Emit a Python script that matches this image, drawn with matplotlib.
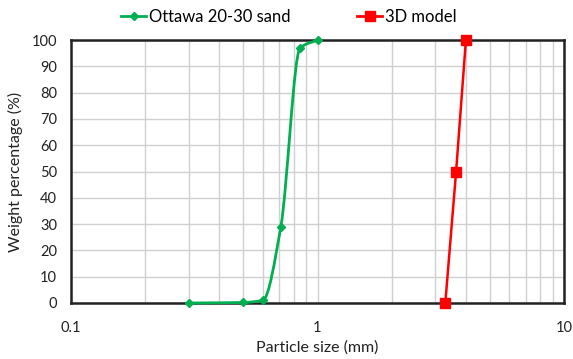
import numpy as np
import matplotlib.pyplot as plt
from matplotlib.path import Path
from matplotlib.patches import PathPatch
from matplotlib.lines import Line2D

plt.rcParams['font.family'] = ['Lato', 'DejaVu Sans']

# sieve data
sand_size = [0.3, 0.5, 0.6, 0.71, 0.85, 1.0]
sand_pct = [0.0, 0.2, 1.0, 29.0, 97.0, 100.0]
model_size = [3.3, 3.65, 4.0]
model_pct = [0.0, 50.0, 100.0]

green = '#00B050'
red = '#FF0000'

fig = plt.figure(figsize=(5.73, 3.59), dpi=100)
ax = fig.add_axes([71 / 573, 1 - 303 / 359, 493 / 573, 263 / 359])
ax.set_xscale('log')
ax.set_xlim(0.1, 10)
ax.set_ylim(0, 100)

# smoothed line, monotone cubic tangents in log-x space (no overshoot)
lx = np.log10(sand_size)
yy = np.array(sand_pct)
h = np.diff(lx)
d = np.diff(yy) / h
m = np.zeros(len(lx))
m[0], m[-1] = d[0], d[-1]
for i in range(1, len(lx) - 1):
    if d[i - 1] * d[i] > 0:
        w1 = 2 * h[i] + h[i - 1]
        w2 = h[i] + 2 * h[i - 1]
        m[i] = (w1 + w2) / (w1 / d[i - 1] + w2 / d[i])
verts = [(lx[0], yy[0])]
codes = [Path.MOVETO]
for i in range(len(lx) - 1):
    verts += [(lx[i] + h[i] / 3, yy[i] + m[i] * h[i] / 3),
              (lx[i + 1] - h[i] / 3, yy[i + 1] - m[i + 1] * h[i] / 3),
              (lx[i + 1], yy[i + 1])]
    codes += [Path.CURVE4] * 3
xy_disp = ax.transData.transform([(10 ** vx, vy) for vx, vy in verts])
path = Path(ax.transAxes.inverted().transform(xy_disp), codes)
ax.add_patch(PathPatch(path, facecolor='none', edgecolor=green, lw=2,
                       transform=ax.transAxes, zorder=3, clip_on=False))
ax.plot(sand_size, sand_pct, ls='none', marker='D', ms=4.5, color=green,
        zorder=4, clip_on=False)

ax.plot(model_size, model_pct, color=red, lw=1.8, marker='s', ms=6.5,
        zorder=4, clip_on=False)

ax.set_yticks(range(0, 101, 10))
ax.set_xticks([0.1, 1, 10])
ax.set_xticklabels(['0.1', '1', '10'])
ax.tick_params(axis='both', which='both', length=0, labelsize=10.5, colors='#222222')
ax.tick_params(axis='x', pad=13)
ax.tick_params(axis='y', pad=10)
ax.grid(True, which='both', axis='x', color='#d0d0d0', lw=1)
ax.grid(True, which='major', axis='y', color='#d0d0d0', lw=1)
ax.set_axisbelow(True)
for s in ax.spines.values():
    s.set_linewidth(1.8)
    s.set_color('#222222')

ax.set_xlabel('Particle size (mm)', fontsize=11.5, color='#222222', labelpad=4)
ax.set_ylabel('Weight percentage (%)', fontsize=11.5, color='#222222', labelpad=6)

handles = [Line2D([], [], color=green, lw=2, marker='D', ms=4.5),
           Line2D([], [], color=red, lw=2, marker='s', ms=6.5)]
fig.legend(handles, ['Ottawa 20-30 sand', '3D model'], loc='center',
           bbox_to_anchor=(0.504, 0.953), ncol=2, frameon=False, fontsize=12,
           handlelength=1.5, handletextpad=0.15, columnspacing=4.0)

fig.savefig('out.png', dpi=100)
